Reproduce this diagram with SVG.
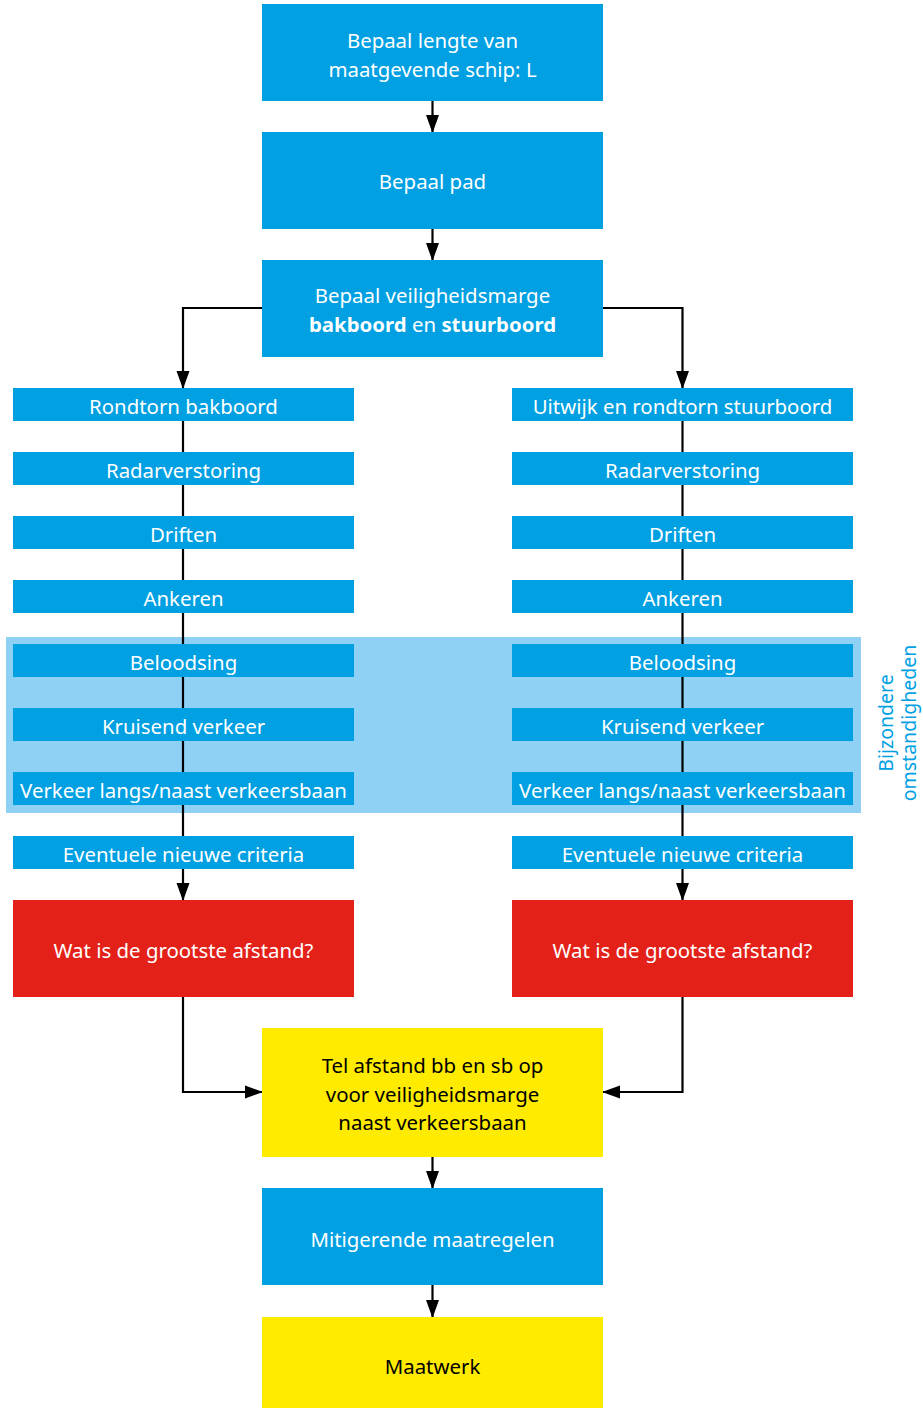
<svg xmlns="http://www.w3.org/2000/svg" width="923" height="1408" viewBox="0 0 923 1408">
<style>
.b{fill:#00a0e2}
.r{fill:#e32119}
.y{fill:#ffeb00}
.t{font-family:"Noto Sans","Open Sans",sans-serif;font-size:20.4px;text-anchor:middle}
.w{fill:#ffffff}
.k{fill:#000000}
.c{fill:none;stroke:#000;stroke-width:2.2}
.v{font-family:"Noto Sans","Open Sans",sans-serif;font-size:19.5px;fill:#00a0e2;text-anchor:middle}
</style>
<defs>
<marker id="a" markerUnits="userSpaceOnUse" markerWidth="18" markerHeight="14" refX="17" refY="7" viewBox="0 0 18 14" orient="auto"><path d="M0,0.5 L18,7 L0,13.5 Z" fill="#000"/></marker>
</defs>
<rect x="6" y="637" width="855" height="176" fill="#8fd1f4"/>
<g id="connectors">
<path class="c" d="M432.5,101 V132" marker-end="url(#a)"/>
<path class="c" d="M432.5,229 V260" marker-end="url(#a)"/>
<path class="c" d="M262,308 H183 V388" marker-end="url(#a)"/>
<path class="c" d="M603,308 H682.5 V388" marker-end="url(#a)"/>
<path class="c" d="M183,421 V900" marker-end="url(#a)"/>
<path class="c" d="M682.5,421 V900" marker-end="url(#a)"/>
<path class="c" d="M183,997 V1092 H262" marker-end="url(#a)"/>
<path class="c" d="M682.5,997 V1092 H603" marker-end="url(#a)"/>
<path class="c" d="M432.5,1157 V1188" marker-end="url(#a)"/>
<path class="c" d="M432.5,1285 V1317" marker-end="url(#a)"/>
</g>
<g id="n1"><rect class="b" x="262" y="4" width="341" height="97"/><text class="t w" x="432.5" y="48">Bepaal lengte van</text><text class="t w" x="432.5" y="77">maatgevende schip: L</text></g>
<g id="n2"><rect class="b" x="262" y="132" width="341" height="97"/><text class="t w" x="432.5" y="189">Bepaal pad</text></g>
<g id="n3"><rect class="b" x="262" y="260" width="341" height="97"/><text class="t w" x="432.5" y="303">Bepaal veiligheidsmarge</text><text class="t w" x="432.5" y="332"><tspan font-weight="bold">bakboord</tspan> en <tspan font-weight="bold">stuurboord</tspan></text></g>
<g id="l1"><rect class="b" x="13" y="388" width="341" height="33"/><text class="t w" x="183.5" y="414">Rondtorn bakboord</text></g>
<g id="l2"><rect class="b" x="13" y="452" width="341" height="33"/><text class="t w" x="183.5" y="478">Radarverstoring</text></g>
<g id="l3"><rect class="b" x="13" y="516" width="341" height="33"/><text class="t w" x="183.5" y="542">Driften</text></g>
<g id="l4"><rect class="b" x="13" y="580" width="341" height="33"/><text class="t w" x="183.5" y="606">Ankeren</text></g>
<g id="l5"><rect class="b" x="13" y="644" width="341" height="33"/><text class="t w" x="183.5" y="670">Beloodsing</text></g>
<g id="l6"><rect class="b" x="13" y="708" width="341" height="33"/><text class="t w" x="183.5" y="734">Kruisend verkeer</text></g>
<g id="l7"><rect class="b" x="13" y="772" width="341" height="33"/><text class="t w" x="183.5" y="798">Verkeer langs/naast verkeersbaan</text></g>
<g id="l8"><rect class="b" x="13" y="836" width="341" height="33"/><text class="t w" x="183.5" y="862">Eventuele nieuwe criteria</text></g>
<g id="lr"><rect class="r" x="13" y="900" width="341" height="97"/><text class="t w" x="183.5" y="958">Wat is de grootste afstand?</text></g>
<g id="r1"><rect class="b" x="512" y="388" width="341" height="33"/><text class="t w" x="682.5" y="414">Uitwijk en rondtorn stuurboord</text></g>
<g id="r2"><rect class="b" x="512" y="452" width="341" height="33"/><text class="t w" x="682.5" y="478">Radarverstoring</text></g>
<g id="r3"><rect class="b" x="512" y="516" width="341" height="33"/><text class="t w" x="682.5" y="542">Driften</text></g>
<g id="r4"><rect class="b" x="512" y="580" width="341" height="33"/><text class="t w" x="682.5" y="606">Ankeren</text></g>
<g id="r5"><rect class="b" x="512" y="644" width="341" height="33"/><text class="t w" x="682.5" y="670">Beloodsing</text></g>
<g id="r6"><rect class="b" x="512" y="708" width="341" height="33"/><text class="t w" x="682.5" y="734">Kruisend verkeer</text></g>
<g id="r7"><rect class="b" x="512" y="772" width="341" height="33"/><text class="t w" x="682.5" y="798">Verkeer langs/naast verkeersbaan</text></g>
<g id="r8"><rect class="b" x="512" y="836" width="341" height="33"/><text class="t w" x="682.5" y="862">Eventuele nieuwe criteria</text></g>
<g id="rr"><rect class="r" x="512" y="900" width="341" height="97"/><text class="t w" x="682.5" y="958">Wat is de grootste afstand?</text></g>
<g id="n4"><rect class="y" x="262" y="1028" width="341" height="129"/><text class="t k" x="432.5" y="1073">Tel afstand bb en sb op</text><text class="t k" x="432.5" y="1102">voor veiligheidsmarge</text><text class="t k" x="432.5" y="1130">naast verkeersbaan</text></g>
<g id="n5"><rect class="b" x="262" y="1188" width="341" height="97"/><text class="t w" x="432.5" y="1247">Mitigerende maatregelen</text></g>
<g id="n6"><rect class="y" x="262" y="1317" width="341" height="91"/><text class="t k" x="432.5" y="1374">Maatwerk</text></g>
<g id="label"><text class="v" transform="translate(893,723) rotate(-90)">Bijzondere</text><text class="v" transform="translate(916,723) rotate(-90)">omstandigheden</text></g>
</svg>
